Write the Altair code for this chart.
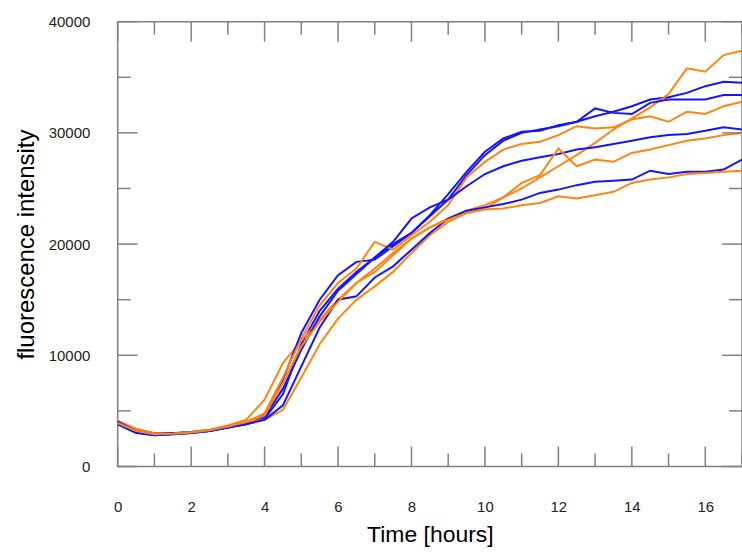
import altair as alt
import pandas as pd

# sample times (hours)
time_h = [0, 0.5, 1, 1.5, 2, 2.5, 3, 3.5, 4, 4.5, 5, 5.5, 6, 6.5, 7, 7.5, 8, 8.5,
          9, 9.5, 10, 10.5, 11, 11.5, 12, 12.5, 13, 13.5, 14, 14.5, 15, 15.5, 16, 16.5, 17]

# blue wells
blue_1 = [3900, 3100, 2800, 2900, 3000, 3200, 3500, 3800, 4300, 6500, 11000, 14000, 16000, 17500,
          18800, 20000, 21000, 22500, 24000, 26200, 28000, 29300, 30000, 30300, 30600, 31000, 31500,
          31900, 32400, 33000, 33200, 33600, 34200, 34600, 34500]
blue_2 = [4100, 3300, 3000, 3000, 3100, 3200, 3500, 3900, 4700, 7800, 12000, 15000, 17200, 18400,
          18600, 19800, 21000, 22600, 24500, 26500, 28300, 29500, 30100, 30200, 30700, 31000, 32200,
          31800, 31700, 32700, 33000, 33000, 33000, 33400, 33400]
blue_3 = [4000, 3200, 2900, 3000, 3050, 3250, 3550, 3900, 4500, 7000, 10500, 13500, 15800, 17300,
          18800, 20200, 22300, 23300, 24000, 25200, 26300, 27000, 27500, 27800, 28100, 28500, 28700,
          29000, 29300, 29600, 29800, 29900, 30200, 30500, 30300]
blue_4 = [3800, 3000, 2800, 2900, 3000, 3200, 3500, 3800, 4200, 5500, 9000, 12500, 15000, 15300,
          17000, 18000, 19500, 21000, 22300, 23000, 23300, 23600, 24000, 24600, 24900, 25300, 25600,
          25700, 25800, 26600, 26300, 26500, 26500, 26700, 27600]

# orange wells
orange_1 = [4000, 3300, 3000, 3000, 3100, 3300, 3700, 4200, 6000, 9300, 11300, 13200, 15000, 16500,
            17500, 19000, 20500, 21500, 22300, 23000, 23500, 24200, 25000, 26000, 27000, 28000, 29100,
            30300, 31300, 32300, 33500, 35800, 35500, 37000, 37400]
orange_2 = [4100, 3400, 3000, 3000, 3100, 3300, 3600, 4000, 4800, 8000, 11500, 14500, 16500, 17800,
            20200, 19500, 20800, 22000, 23500, 26000, 27400, 28500, 29000, 29200, 29800, 30600, 30400,
            30500, 31200, 31500, 31000, 31900, 31700, 32400, 32800]
orange_3 = [3900, 3200, 2900, 2950, 3050, 3250, 3600, 4000, 4200, 5100, 8000, 11000, 13300, 15000,
            16200, 17500, 19200, 20800, 22000, 22800, 23200, 24200, 25500, 26200, 28600, 27000, 27600,
            27400, 28200, 28500, 28900, 29300, 29500, 29800, 30000]
orange_4 = [3900, 3200, 2900, 2950, 3050, 3250, 3600, 4000, 4600, 7500, 10800, 13000, 14800, 16500,
            17800, 19200, 20500, 21500, 22200, 22800, 23100, 23200, 23500, 23700, 24300, 24100, 24400,
            24700, 25500, 25800, 26000, 26300, 26400, 26500, 26600]

series = [
    ("B1", "blue", blue_1), ("O1", "orange", orange_1),
    ("B2", "blue", blue_2), ("O2", "orange", orange_2),
    ("B3", "blue", blue_3), ("O3", "orange", orange_3),
    ("B4", "blue", blue_4), ("O4", "orange", orange_4),
]

x_labels = [0, 2, 4, 6, 8, 10, 12, 14, 16]
x_minor = [1, 3, 5, 7, 9, 11, 13, 15, 17]
y_labels = [0, 10000, 20000, 30000, 40000]
y_minor = [5000, 15000, 25000, 35000]

X_MAX = 17
Y_MAX = 40000
W, H = 626, 446
# tick lengths expressed in data units (major / minor)
XT_MAJ = 20 / H * Y_MAX
XT_MIN = 13 / H * Y_MAX
YT_MAJ = 20 / W * X_MAX
YT_MIN = 13 / W * X_MAX

rows = []
for name, grp, vals in series:
    for t, v in zip(time_h, vals):
        rows.append({"t": t, "v": v, "series": name, "group": grp})
df = pd.DataFrame(rows)

FONT = "Liberation Sans"
GRAY = "#808080"

xscale = alt.Scale(domain=[0, X_MAX], nice=False, zero=False)
yscale = alt.Scale(domain=[0, Y_MAX], nice=False, zero=True)

x_axis = alt.Axis(values=x_labels, ticks=False, domain=False, grid=False,
                  labelFlush=False, labelPadding=33, labelFontSize=15,
                  labelFont=FONT, labelColor="#222222",
                  title="Time [hours]", titleFont=FONT, titleFontSize=23,
                  titleFontWeight="normal", titleColor="#000000", titlePadding=9)
y_axis = alt.Axis(values=y_labels, ticks=False, domain=False, grid=False,
                  labelFlush=False, labelPadding=28, labelFontSize=15, format="d",
                  labelFont=FONT, labelColor="#222222",
                  title="fluorescence intensity", titleFont=FONT, titleFontSize=24,
                  titleFontWeight="normal", titleColor="#000000", titlePadding=10)

lines = alt.Chart(df).mark_line(strokeWidth=2).encode(
    x=alt.X("t:Q", scale=xscale, axis=x_axis),
    y=alt.Y("v:Q", scale=yscale, axis=y_axis),
    color=alt.Color("group:N", scale=alt.Scale(domain=["blue", "orange"],
                                               range=["#1414ff", "#ff8410"]), legend=None),
    detail="series:N",
)

def xticks(vals, length):
    d = pd.DataFrame({"t": vals})
    base = alt.Chart(d).mark_rule(color=GRAY, strokeWidth=1.5)
    bottom = base.encode(x=alt.X("t:Q", axis=x_axis),
                         y=alt.YDatum(0, type="quantitative", axis=y_axis),
                         y2=alt.Y2Datum(length))
    top = base.encode(x=alt.X("t:Q", axis=x_axis),
                      y=alt.YDatum(Y_MAX, type="quantitative", axis=y_axis),
                      y2=alt.Y2Datum(Y_MAX - length))
    return [bottom, top]

def yticks(vals, length):
    d = pd.DataFrame({"v": vals})
    base = alt.Chart(d).mark_rule(color=GRAY, strokeWidth=1.5)
    left = base.encode(y=alt.Y("v:Q", axis=y_axis),
                       x=alt.XDatum(0, type="quantitative", axis=x_axis),
                       x2=alt.X2Datum(length))
    right = base.encode(y=alt.Y("v:Q", axis=y_axis),
                        x=alt.XDatum(X_MAX, type="quantitative", axis=x_axis),
                        x2=alt.X2Datum(X_MAX - length))
    return [left, right]

layers = xticks(x_labels, XT_MAJ) + xticks(x_minor, XT_MIN) + yticks(y_labels, YT_MAJ) + yticks(y_minor, YT_MIN)

chart = alt.layer(lines, *layers).properties(
    width=W, height=H,
    autosize=alt.AutoSizeParams(type="none"),
    padding={"left": 118, "top": 21, "right": 0, "bottom": 87},
    background="white",
).configure_view(stroke=GRAY, strokeWidth=1.5)

chart.save("out.html", embed_options={"renderer": "svg", "actions": False})
